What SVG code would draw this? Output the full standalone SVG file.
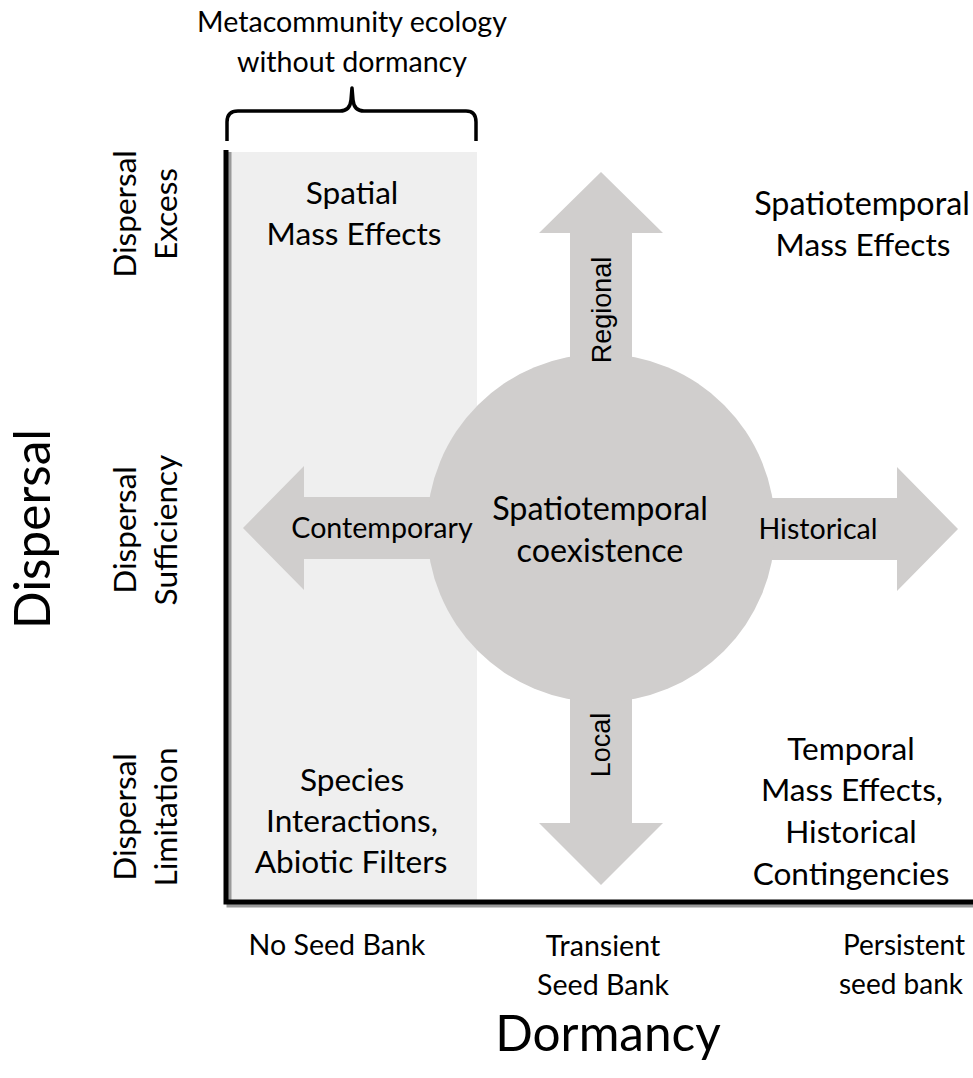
<svg xmlns="http://www.w3.org/2000/svg" width="973" height="1078" viewBox="0 0 973 1078">
<style>
.t{font-family:Lato,"Open Sans","Liberation Sans",sans-serif;font-size:31.6px;fill:#000;text-anchor:middle}
.s{font-size:28.6px}
.p{font-size:28px}
.c{font-size:32.3px}
.big{font-family:Lato,"Open Sans","Liberation Sans",sans-serif;font-size:49.5px;fill:#000;text-anchor:middle}
.a{font-family:"Liberation Sans",Arial,sans-serif;font-size:27px;fill:#000;text-anchor:middle}
.sh{fill:#d0cecd}
.ax{stroke:#000;stroke-width:5;fill:none}
.axs{stroke:#9a9a9a;stroke-width:5;fill:none}
</style>
<rect width="973" height="1078" fill="#fff"/>
<g id="metacommunity-region">
<rect x="228" y="152" width="249" height="748" fill="#efefef"/>
</g>
<g id="brace">
<path d="M227,141 L227,122 Q227,111 238,111 L340,111 Q350,111 351,100 L352,88 L353,100 Q354,111 364,111 L466,111 Q476,111 476,122 L476,141" fill="none" stroke="#000" stroke-width="3.5" stroke-linejoin="round"/>
<text class="t s" x="352" y="32">Metacommunity ecology</text>
<text class="t s" x="352" y="72">without dormancy</text>
</g>
<g id="connectors">
<polygon class="sh" points="601,172 663,233 632,233 632,400 570,400 570,233 539,233"/>
<polygon class="sh" points="601,885 663,823 632,823 632,660 570,660 570,823 539,823"/>
<polygon class="sh" points="243,528 304,466 304,497 480,497 480,559 304,559 304,590"/>
<polygon class="sh" points="958,529 897,467 897,498 720,498 720,560 897,560 897,591"/>
</g>
<g id="center">
<circle class="sh" cx="601" cy="528" r="174"/>
<text class="t c" x="600" y="520">Spatiotemporal</text>
<text class="t c" x="600" y="562">coexistence</text>
</g>
<g id="label-regional"><text class="a" transform="translate(611,310) rotate(-90)">Regional</text></g>
<g id="label-local"><text class="a" transform="translate(610,745) rotate(-90)">Local</text></g>
<g id="label-contemporary"><text class="t s" x="382" y="538">Contemporary</text></g>
<g id="label-historical"><text class="t s" x="818" y="539">Historical</text></g>
<g id="spatial-mass-effects">
<text class="t" x="352" y="204">Spatial</text>
<text class="t" x="354" y="245">Mass Effects</text>
</g>
<g id="spatiotemporal-mass-effects">
<text class="t c" x="862" y="215">Spatiotemporal</text>
<text class="t" x="863" y="256">Mass Effects</text>
</g>
<g id="species-interactions">
<text class="t" x="352" y="791">Species</text>
<text class="t" x="352" y="832">Interactions,</text>
<text class="t" x="351" y="873">Abiotic Filters</text>
</g>
<g id="temporal-mass-effects">
<text class="t" x="851" y="760">Temporal</text>
<text class="t" x="852" y="801">Mass Effects,</text>
<text class="t" x="851" y="843">Historical</text>
<text class="t" x="851" y="885">Contingencies</text>
</g>
<g id="axes">
<path class="axs" d="M229,152 L229,905 L973,905"/>
<path class="ax" d="M226,150 L226,902 L973,902"/>
</g>
<g id="y-axis-labels">
<text class="t" transform="translate(136,214) rotate(-90)">Dispersal<tspan x="0" dy="41">Excess</tspan></text>
<text class="t" transform="translate(136,530) rotate(-90)">Dispersal<tspan x="0" dy="41">Sufficiency</tspan></text>
<text class="t" transform="translate(136,817) rotate(-90)">Dispersal<tspan x="0" dy="41">Limitation</tspan></text>
<text class="big" transform="translate(50,529) rotate(-90)">Dispersal</text>
</g>
<g id="x-axis-labels">
<text class="t s" x="337" y="955">No Seed Bank</text>
<text class="t s" x="603" y="956">Transient</text>
<text class="t s" x="603" y="995">Seed Bank</text>
<text class="t p" x="904" y="955">Persistent</text>
<text class="t p" x="901" y="994">seed bank</text>
<text class="big" x="608" y="1051">Dormancy</text>
</g>
</svg>
